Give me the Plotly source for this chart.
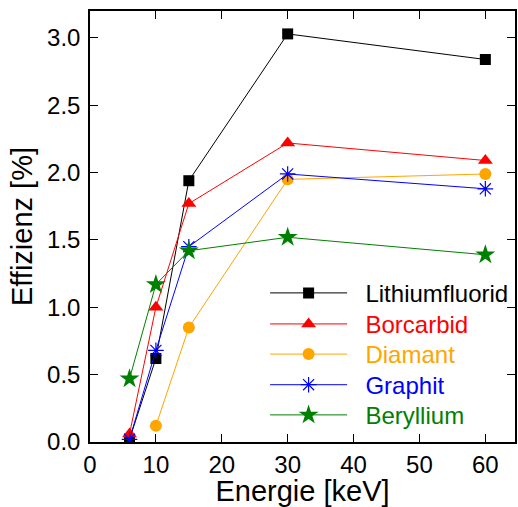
import plotly.graph_objects as go

energy = [6, 10, 15, 30, 60]
lithiumfluorid = [0.02, 0.62, 1.94, 3.03, 2.84]
borcarbid = [0.06, 1.00, 1.77, 2.22, 2.09]
diamant_x = [10, 15, 30, 60]
diamant = [0.12, 0.85, 1.95, 1.99]
graphit = [0.02, 0.68, 1.45, 1.99, 1.88]
beryllium = [0.47, 1.17, 1.42, 1.52, 1.39]

series = [
    ("Lithiumfluorid", energy, lithiumfluorid, "black", "square", 11),
    ("Borcarbid", energy, borcarbid, "red", "triangle-up", 13),
    ("Diamant", diamant_x, diamant, "orange", "circle", 12),
    ("Graphit", energy, graphit, "blue", "asterisk-open", 13),
    ("Beryllium", energy, beryllium, "green", "star", 15),
]

# legend row centres (fraction of plot height)
legend_rows = [0.345, 0.273, 0.203, 0.132, 0.062]
legend_ids = ["legend", "legend2", "legend3", "legend4", "legend5"]

fig = go.Figure()
for (name, xs, ys, col, sym, sz), lid in zip(series, legend_ids):
    marker = dict(symbol=sym, size=sz, color=col)
    if sym == "asterisk-open":
        marker["line"] = dict(color=col, width=1.2)
    else:
        marker["line"] = dict(width=0)
    fig.add_trace(go.Scatter(
        x=xs, y=ys, mode="lines+markers",
        name=f'\u00a0\u00a0<span style="color:{col}">{name}</span>',
        line=dict(color=col, width=1),
        marker=marker, legend=lid,
    ))

font = "Liberation Sans, Arial, Helvetica, sans-serif"
legend_style = dict(x=0.412, xanchor="left", yanchor="middle",
                    bgcolor="rgba(0,0,0,0)", font=dict(size=24),
                    itemwidth=77)
layout_legends = {lid: dict(legend_style, y=yr) for lid, yr in zip(legend_ids, legend_rows)}

fig.update_layout(
    width=518, height=507,
    margin=dict(l=90, r=1, t=11, b=65),
    paper_bgcolor="white", plot_bgcolor="white",
    font=dict(family=font, size=24, color="black"),
    showlegend=True,
    xaxis=dict(range=[0, 64.5], tickvals=[0, 10, 20, 30, 40, 50, 60],
               ticks="inside", ticklen=8, tickcolor="black", mirror="ticks",
               showline=True, linecolor="black", linewidth=1.5,
               showgrid=False, zeroline=False,
               title=dict(text="Energie [keV]", standoff=4),
               tickfont=dict(size=24)),
    yaxis=dict(range=[0, 3.2], tickvals=[0, 0.5, 1, 1.5, 2, 2.5, 3],
               ticktext=["0.0", "0.5", "1.0", "1.5", "2.0", "2.5", "3.0"],
               ticks="inside", ticklen=8, tickcolor="black", mirror="ticks",
               showline=True, linecolor="black", linewidth=1.5,
               showgrid=False, zeroline=False,
               title=dict(text="Effizienz [%]", standoff=6),
               ticklabelstandoff=3,
               tickfont=dict(size=24)),
    **layout_legends,
)
fig.write_html("out.html")
